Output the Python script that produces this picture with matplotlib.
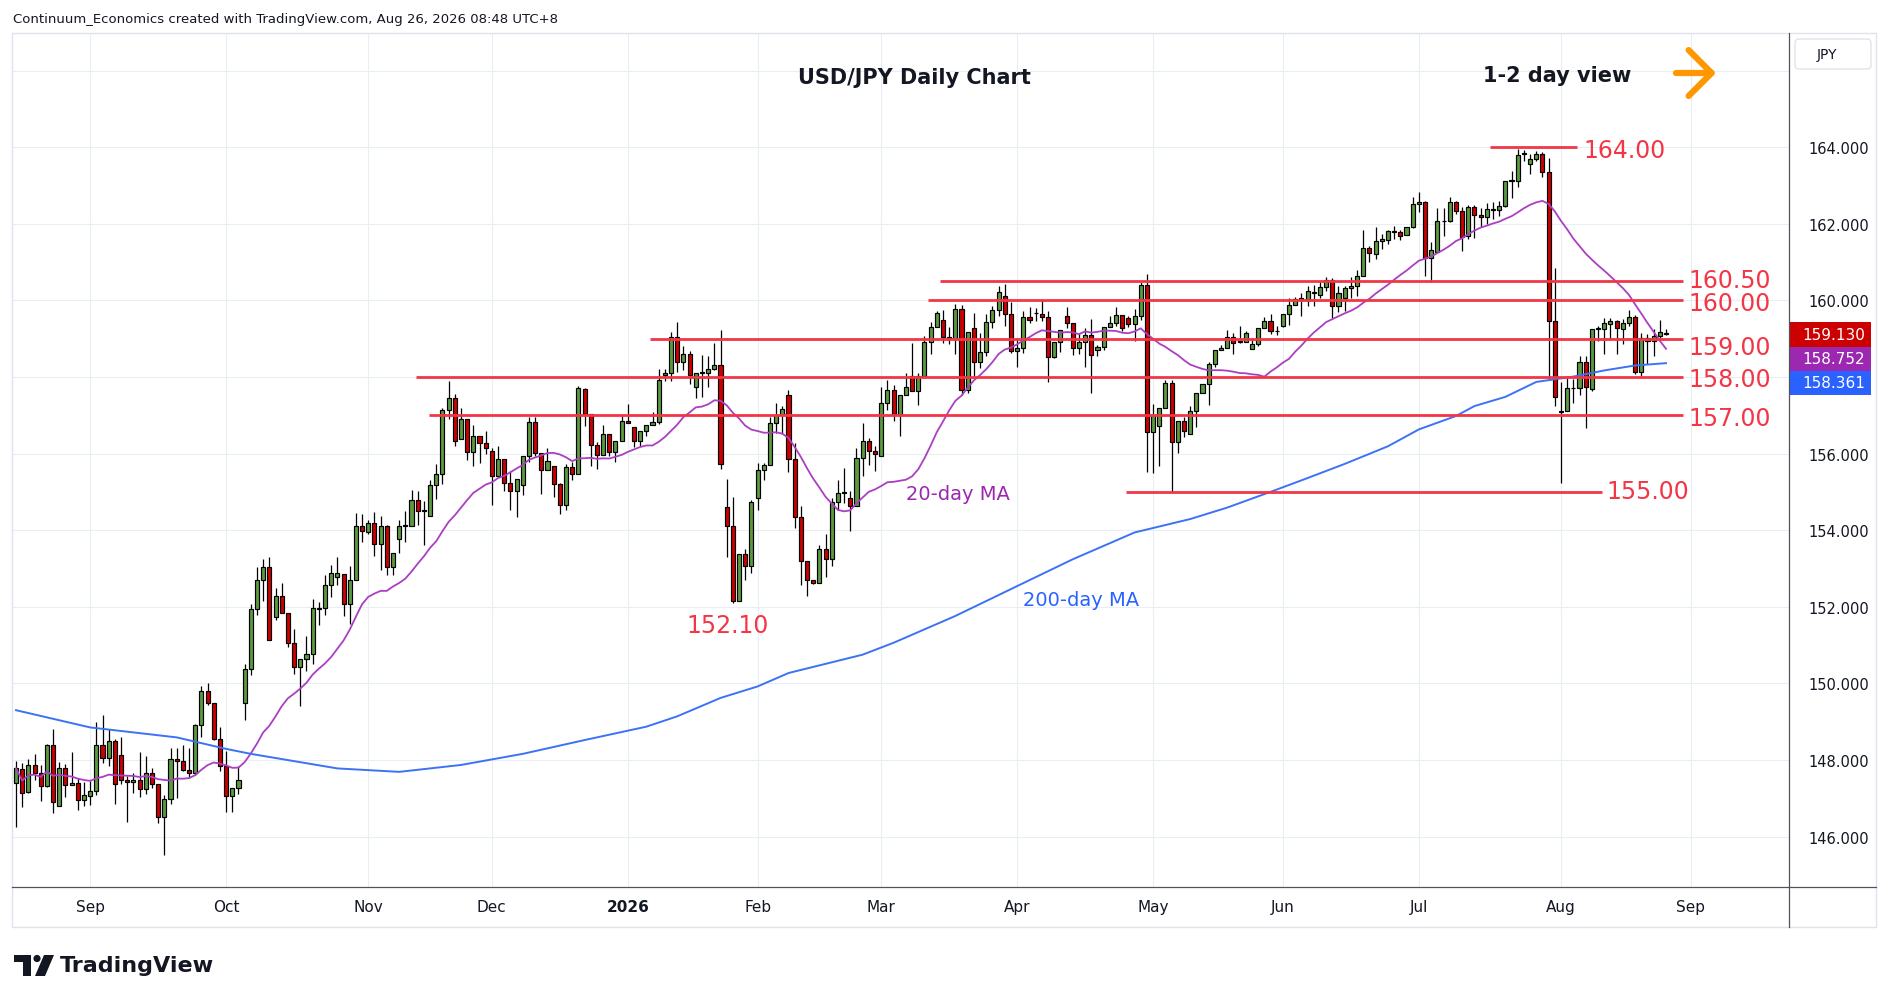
import matplotlib
matplotlib.use('Agg')
import matplotlib.pyplot as plt
import numpy as np
import pandas as pd
from matplotlib.patches import Rectangle, FancyBboxPatch, Polygon, Circle

# ---------------- data ----------------
opens = [
    147.41, 147.77, 147.16, 147.87, 147.67, 147.32, 148.40, 146.81, 147.80, 147.36,
    147.41, 146.96, 147.07, 147.20, 148.40, 148.06, 148.50, 148.14, 147.49, 147.43,
    147.49, 147.23, 147.67, 147.38, 146.50, 146.97, 148.03, 147.98, 147.74, 147.67,
    148.92, 149.81, 149.50, 148.55, 147.83, 147.07, 147.28, 149.48, 150.37, 151.93,
    152.70, 153.04, 151.74, 152.29, 151.84, 151.06, 150.43, 150.64, 150.76, 151.95,
    151.97, 152.57, 152.78, 152.86, 152.08, 152.71, 154.10, 153.94, 154.20, 153.65,
    154.10, 153.05, 153.76, 154.10, 154.11, 154.78, 154.52, 154.36, 155.17, 155.46,
    157.14, 157.45, 156.37, 156.91, 156.03, 156.45, 156.27, 156.06, 155.41, 155.85,
    155.22, 155.03, 155.17, 155.94, 156.82, 156.01, 155.56, 155.67, 155.20, 154.67,
    155.64, 155.46, 157.69, 157.03, 156.22, 155.96, 156.51, 156.03, 156.32, 156.85,
    156.69, 156.32, 156.59, 156.74, 156.82, 158.06, 158.11, 159.04, 158.40, 158.61,
    157.74, 158.11, 158.11, 158.21, 158.32, 154.60, 154.11, 152.14, 153.37, 153.06,
    154.83, 155.57, 155.70, 156.80, 157.01, 157.53, 155.86, 154.34, 153.20, 152.70,
    152.63, 153.50, 153.24, 154.73, 154.97, 154.84, 154.62, 155.88, 156.33, 156.07,
    155.94, 157.32, 157.66, 157.01, 157.53, 158.03, 157.64, 158.03, 158.92, 159.31,
    159.49, 159.05, 159.00, 159.78, 157.67, 159.29, 158.40, 158.65, 159.43, 159.76,
    160.11, 159.64, 158.67, 158.75, 159.56, 159.68, 159.65, 159.56, 158.52, 158.91,
    159.59, 159.41, 158.75, 158.91, 159.09, 158.70, 158.78, 159.30, 159.41, 159.62,
    159.54, 159.38, 159.59, 160.40, 156.55, 156.71, 157.18, 157.83, 156.29, 156.84,
    156.50, 157.10, 157.57, 157.81, 158.33, 158.70, 158.75, 159.04, 158.91, 158.91,
    158.72, 158.86, 159.28, 159.46, 159.20, 159.33, 159.64, 159.88, 160.05, 160.01,
    160.20, 160.15, 160.34, 160.52, 159.86, 160.05, 160.31, 160.37, 160.63, 161.36,
    161.21, 161.56, 161.57, 161.79, 161.79, 161.70, 161.91, 162.52, 162.57, 161.10,
    161.26, 162.07, 162.07, 162.57, 162.33, 161.69, 162.44, 162.22, 162.17, 162.36,
    162.37, 162.47, 163.11, 163.12, 163.83, 163.57, 163.69, 163.83, 163.35, 159.46,
    157.11, 157.11, 157.70, 157.72, 158.40, 157.69, 159.26, 159.24, 159.38, 159.46,
    159.26, 159.41, 159.57, 158.14, 159.02, 158.94, 159.06, 159.16]

highs = [
    147.98, 147.91, 148.03, 148.15, 147.86, 148.43, 148.80, 147.95, 147.90, 148.22,
    147.52, 147.43, 147.44, 148.98, 149.17, 148.80, 148.54, 148.61, 147.57, 147.67,
    148.22, 148.11, 147.80, 147.38, 147.08, 148.30, 148.32, 148.40, 148.30, 148.95,
    149.94, 150.00, 149.50, 148.87, 148.24, 147.28, 147.85, 150.50, 152.06, 153.03,
    153.26, 153.29, 152.48, 152.63, 151.84, 151.43, 150.64, 151.23, 152.19, 152.13,
    152.83, 153.09, 153.29, 152.86, 153.06, 154.45, 154.41, 154.27, 154.48, 154.38,
    154.14, 153.41, 154.26, 154.51, 155.04, 155.01, 154.75, 155.32, 155.73, 157.19,
    157.90, 157.55, 157.20, 156.91, 156.75, 156.45, 156.59, 156.15, 156.19, 155.85,
    155.54, 155.33, 155.94, 156.96, 156.96, 156.01, 156.14, 155.67, 155.23, 155.73,
    155.77, 157.76, 157.71, 157.03, 156.30, 156.75, 156.51, 156.32, 157.01, 157.29,
    156.69, 156.59, 156.74, 157.08, 158.20, 158.21, 159.18, 159.44, 158.81, 158.67,
    158.11, 158.58, 158.54, 158.89, 159.22, 155.34, 154.86, 153.37, 153.51, 154.78,
    155.75, 155.75, 156.95, 157.32, 157.25, 157.65, 156.28, 154.62, 153.20, 152.70,
    153.62, 153.90, 154.83, 155.32, 155.62, 155.02, 156.15, 156.80, 156.41, 156.21,
    157.74, 157.93, 157.80, 157.53, 158.11, 158.89, 158.11, 159.07, 159.43, 159.72,
    159.75, 159.31, 159.90, 159.87, 159.18, 159.66, 159.15, 159.64, 159.84, 160.37,
    160.44, 159.97, 159.01, 159.71, 159.83, 159.80, 160.02, 159.71, 158.91, 159.22,
    159.83, 159.41, 159.14, 159.28, 159.51, 158.84, 159.30, 159.58, 159.83, 159.62,
    159.58, 159.77, 160.49, 160.70, 157.29, 157.18, 157.92, 157.92, 156.84, 156.96,
    157.24, 157.57, 157.81, 158.39, 158.70, 158.83, 159.23, 159.14, 159.32, 159.21,
    159.01, 159.28, 159.56, 159.64, 159.32, 159.64, 160.06, 160.08, 160.19, 160.38,
    160.40, 160.49, 160.60, 160.59, 160.37, 160.38, 160.60, 160.78, 161.83, 161.43,
    161.91, 161.74, 161.83, 161.94, 161.84, 161.91, 162.70, 162.83, 162.59, 161.52,
    162.41, 162.41, 162.70, 162.59, 162.44, 162.50, 162.48, 162.41, 162.55, 162.56,
    162.59, 163.12, 163.38, 163.96, 163.93, 163.83, 163.89, 163.87, 163.71, 160.85,
    157.87, 157.98, 157.95, 158.54, 158.54, 159.26, 159.34, 159.54, 159.54, 159.48,
    159.52, 159.76, 159.62, 159.15, 159.13, 159.26, 159.48, 159.24]

lows = [
    146.26, 146.77, 147.13, 147.48, 146.93, 147.30, 146.62, 146.81, 147.03, 147.35,
    146.70, 146.81, 146.83, 147.09, 147.91, 147.84, 146.85, 147.37, 146.37, 147.13,
    147.03, 147.12, 147.26, 146.35, 145.52, 146.84, 147.00, 147.72, 147.52, 147.61,
    148.61, 149.43, 148.52, 147.70, 146.65, 146.65, 147.12, 149.04, 150.22, 151.78,
    152.15, 151.13, 151.65, 151.84, 150.96, 150.24, 149.41, 150.32, 150.50, 151.52,
    151.78, 152.26, 152.58, 151.76, 151.55, 152.71, 153.68, 153.91, 153.33, 152.96,
    152.83, 152.83, 153.40, 153.68, 154.11, 154.14, 153.61, 154.36, 154.81, 155.21,
    156.91, 156.21, 156.37, 155.82, 155.67, 155.75, 155.99, 154.66, 155.41, 155.03,
    154.53, 154.35, 154.93, 155.78, 155.93, 154.95, 155.56, 154.86, 154.41, 154.52,
    155.31, 155.46, 156.73, 155.67, 155.59, 155.96, 155.93, 155.77, 156.32, 156.79,
    156.17, 156.19, 156.46, 156.74, 156.78, 157.89, 157.89, 158.13, 158.18, 157.82,
    157.44, 157.47, 157.74, 158.18, 155.60, 153.31, 152.09, 152.14, 152.70, 152.87,
    154.53, 155.30, 155.70, 156.54, 156.50, 155.51, 154.05, 152.57, 152.28, 152.60,
    152.63, 152.79, 153.07, 154.53, 154.71, 153.99, 154.62, 155.41, 155.71, 155.54,
    155.94, 157.15, 156.84, 156.45, 157.53, 157.64, 157.27, 158.03, 158.59, 159.31,
    158.89, 158.85, 158.59, 157.52, 157.58, 158.02, 158.24, 158.56, 159.28, 159.58,
    159.32, 158.62, 158.27, 158.62, 159.42, 159.45, 159.45, 157.88, 158.49, 158.65,
    159.28, 158.58, 158.60, 158.25, 157.57, 158.55, 158.71, 159.30, 159.32, 159.19,
    159.30, 158.95, 159.49, 155.52, 155.48, 155.68, 157.18, 155.00, 156.02, 156.44,
    156.50, 156.70, 157.57, 157.28, 158.27, 158.70, 158.75, 158.59, 158.88, 158.91,
    158.72, 158.80, 159.28, 159.12, 159.10, 159.30, 159.36, 159.88, 159.60, 159.84,
    159.84, 160.06, 160.25, 159.55, 159.69, 159.73, 160.05, 160.12, 160.63, 161.00,
    161.08, 161.34, 161.48, 161.61, 161.58, 161.70, 161.89, 162.31, 160.63, 160.49,
    161.26, 161.69, 162.04, 162.26, 161.30, 161.61, 161.62, 161.91, 162.00, 162.12,
    162.19, 162.45, 162.67, 162.97, 163.63, 163.30, 163.63, 163.21, 157.95, 157.24,
    155.24, 157.11, 157.33, 157.54, 156.68, 157.63, 158.93, 158.59, 158.98, 158.59,
    158.85, 159.33, 158.07, 158.02, 158.33, 158.54, 159.02, 159.10]

closes = [
    147.78, 147.15, 147.87, 147.67, 147.33, 148.40, 146.91, 147.80, 147.36, 147.41,
    146.96, 147.08, 147.20, 148.40, 148.06, 148.50, 147.37, 147.48, 147.43, 147.49,
    147.23, 147.67, 147.38, 146.50, 146.97, 148.03, 147.98, 147.74, 147.67, 148.92,
    149.81, 149.50, 148.55, 147.83, 147.07, 147.28, 147.49, 150.37, 151.93, 152.70,
    153.04, 151.13, 152.29, 151.84, 151.06, 150.43, 150.64, 150.76, 151.96, 151.97,
    152.57, 152.89, 152.89, 152.08, 152.71, 154.10, 153.99, 154.20, 153.65, 154.10,
    153.05, 153.41, 154.11, 154.13, 154.78, 154.51, 154.50, 155.17, 155.46, 157.14,
    157.45, 156.32, 156.91, 156.03, 156.45, 156.27, 156.14, 155.41, 155.85, 155.22,
    155.03, 155.33, 155.94, 156.82, 156.01, 155.56, 155.80, 155.20, 154.67, 155.64,
    155.46, 157.71, 157.03, 156.22, 155.96, 156.51, 156.03, 156.32, 156.85, 156.79,
    156.32, 156.59, 156.74, 156.82, 157.91, 158.11, 159.04, 158.40, 158.61, 158.06,
    158.11, 158.12, 158.21, 158.32, 155.74, 154.11, 152.14, 153.37, 153.06, 154.74,
    155.57, 155.70, 156.80, 157.01, 157.17, 155.86, 154.34, 153.20, 152.70, 152.62,
    153.50, 153.24, 154.73, 154.97, 155.00, 154.62, 155.88, 156.33, 156.07, 155.99,
    157.32, 157.66, 157.04, 157.53, 157.74, 157.64, 158.03, 158.92, 159.31, 159.68,
    159.05, 158.98, 159.78, 157.67, 159.18, 158.40, 158.66, 159.43, 159.76, 160.22,
    159.64, 158.67, 158.75, 159.56, 159.48, 159.66, 159.56, 158.52, 158.91, 159.22,
    159.41, 158.75, 158.91, 159.09, 158.57, 158.78, 159.30, 159.41, 159.62, 159.28,
    159.38, 159.59, 160.40, 156.55, 157.00, 157.18, 157.83, 156.29, 156.84, 156.60,
    157.10, 157.57, 157.81, 158.33, 158.70, 158.75, 159.04, 158.88, 158.93, 159.14,
    158.86, 159.28, 159.46, 159.20, 159.19, 159.64, 159.88, 160.03, 160.01, 160.25,
    160.22, 160.34, 160.52, 159.86, 160.18, 160.31, 160.37, 160.63, 161.36, 161.23,
    161.55, 161.59, 161.80, 161.80, 161.68, 161.91, 162.52, 162.57, 161.10, 161.32,
    162.07, 162.08, 162.57, 162.33, 161.65, 162.44, 162.24, 162.17, 162.38, 162.38,
    162.47, 163.12, 163.13, 163.80, 163.84, 163.69, 163.83, 163.35, 159.46, 157.48,
    157.09, 157.70, 157.72, 158.40, 157.74, 159.26, 159.27, 159.40, 159.46, 159.28,
    159.41, 159.57, 158.14, 159.02, 158.94, 159.06, 159.17, 159.13]

# 200-day moving average at these bar numbers
ma200_bar = [0, 12, 26, 34, 38, 52, 62, 72, 82, 92, 102, 107, 114, 120, 125, 132,
             137, 142, 152, 162, 171, 181, 190, 196, 203, 208, 215, 222, 227, 233,
             236, 241, 246, 252, 257, 262, 267]
ma200_val = [149.30, 148.85, 148.59, 148.29, 148.16, 147.78, 147.69, 147.87, 148.16,
             148.52, 148.87, 149.14, 149.62, 149.92, 150.27, 150.55, 150.75, 151.06,
             151.76, 152.54, 153.24, 153.94, 154.29, 154.59, 155.00, 155.30, 155.73,
             156.19, 156.63, 156.98, 157.24, 157.48, 157.87, 158.01, 158.17, 158.30,
             158.36]

levels = [164.00, 160.50, 160.00, 159.00, 158.00, 157.00, 155.00]
level_labels = ['164.00', '160.50', '160.00', '159.00', '158.00', '157.00', '155.00']
yticks = [146, 148, 150, 152, 154, 156, 158, 160, 162, 164, 166]
hidden_yticks = [158, 166]   # covered by the price tags / currency box

last_price, ma20_last, ma200_last = '159.130', '158.752', '158.361'

# ---------------- layout ----------------
W, H = 1889, 1003
fig = plt.figure(figsize=(W / 100, H / 100), dpi=100)
fig.patch.set_facecolor('white')

XMIN, XMAX = -0.65, 286.9
YMIN, YMAX = 144.684, 166.98

dates = pd.bdate_range('2025-08-14', '2026-08-26')
dates = dates[~dates.isin(pd.to_datetime(['2025-12-25', '2026-01-01']))]
n = len(dates)
idx = np.arange(n)
o = np.array(opens)
h = np.array(highs)
l = np.array(lows)
c = np.array(closes)

ax = fig.add_axes([12 / W, 1 - 888 / H, (1789 - 12) / W, (888 - 34) / H])
for s in ax.spines.values():
    s.set_visible(False)

# month ticks
fut = pd.bdate_range(dates[-1] + pd.Timedelta(days=1), periods=30)
alld = list(dates) + list(fut)
mpos, mlab = [], []
for i, d in enumerate(alld):
    if i == 0 or i > XMAX:
        continue
    if d.month != alld[i - 1].month:
        mpos.append(i)
        mlab.append(str(d.year) if d.month == 1 else d.strftime('%b'))
ax.set_xticks(mpos)
ax.set_xticklabels(mlab)
ax.tick_params(axis='x', length=0, pad=9, labelsize=11, labelcolor='#131722')
for t in ax.get_xticklabels():
    if t.get_text().isdigit():
        t.set_fontweight('bold')

ax.yaxis.tick_right()
ax.set_yticks(yticks)
ax.set_yticklabels(['' if v in hidden_yticks else f'{v:.3f}' for v in yticks])
ax.tick_params(axis='y', length=0, pad=14, labelsize=10.5, labelcolor='#131722')
ax.grid(True, color='#e9eef4', lw=0.8, zorder=0)
ax.set_axisbelow(True)

# candles
up = c >= o
cols = np.where(up, '#5b9a3e', '#cc0000')
ax.vlines(idx, l, h, color='black', lw=0.9, zorder=3)
body = np.maximum(np.abs(c - o), 0.012)
ax.bar(idx, body, bottom=np.minimum(o, c), width=0.66, color=cols,
       edgecolor='black', linewidth=0.85, zorder=4)

# moving averages
ma20 = pd.Series(c).rolling(20, min_periods=1).mean()
ax.plot(idx, ma20, color='#ab3fc2', lw=1.3, zorder=5)
ax.plot(ma200_bar, ma200_val, color='#3d72f6', lw=1.4, zorder=5)

# horizontal levels
red = '#f23645'
lvl_x0 = [238.5, 149.5, 147.6, 102.6, 64.7, 66.8, 179.6]
lvl_x1 = [252.6, 269.7, 269.7, 269.7, 269.7, 269.7, 256.6]
lbl_x = [253.6, 270.55, 270.55, 270.55, 270.55, 270.55, 257.4]
lbl_dy = [0.0, 0.1, 0.0, -0.15, 0.0, 0.0, 0.1]
for lv, lab, x0, x1, lx, dy in zip(levels, level_labels, lvl_x0, lvl_x1, lbl_x, lbl_dy):
    ax.plot([x0, x1], [lv, lv], color=red, lw=2.0, zorder=6, solid_capstyle='butt')
    ax.text(lx, lv + dy, lab, color=red, fontsize=17, ha='left', va='center_baseline', zorder=7)

ax.text(115.1, 151.6, '152.10', color=red, fontsize=17, ha='center', va='center_baseline')
ax.text(152.4, 155.0, '20-day MA', color='#9c27b0', fontsize=14, ha='center', va='center_baseline')
ax.text(172.3, 152.24, '200-day MA', color='#2962ff', fontsize=14, ha='center', va='center_baseline')

ax.set_xlim(XMIN, XMAX)
ax.set_ylim(YMIN, YMAX)

# ---------------- overlay (pixel coords) ----------------
ov = fig.add_axes([0, 0, 1, 1])
ov.set_xlim(0, W)
ov.set_ylim(H, 0)
ov.axis('off')

# frame
ov.add_patch(Rectangle((12, 34), 1876 - 12, 928 - 34, fill=False, ec='#e0e3eb', lw=1))
ov.plot([12, 1876], [888, 888], color='#50535e', lw=0.9)
ov.plot([1789, 1789], [34, 928], color='#50535e', lw=0.9)

# JPY box
ov.add_patch(FancyBboxPatch((1795, 40), 76, 30, boxstyle='round,pad=0,rounding_size=4',
                            fc='white', ec='#e0e3eb', lw=1))
ov.text(1817, 55, 'JPY', fontsize=10, color='#131722', ha='left', va='center')

# price tags
for (y0, col, txt) in [(323.3, '#cc0000', last_price), (347.5, '#9c27b0', ma20_last),
                       (371.7, '#2962ff', ma200_last)]:
    ov.add_patch(Rectangle((1790, y0), 81, 24.2, fc=col, ec='none'))
    ov.text(1802, y0 + 12.3, txt, color='white', fontsize=11, ha='left', va='center')

# titles
ov.text(13, 19, 'Continuum_Economics created with TradingView.com, Aug 26, 2026 08:48 UTC+8',
        fontsize=9.5, color='#131722', ha='left', va='center')
ov.text(914, 78, 'USD/JPY Daily Chart', fontsize=15, fontweight='bold', color='#131722',
        ha='center', va='center')
ov.text(1557, 76, '1-2 day view', fontsize=15, fontweight='bold', color='#131722',
        ha='center', va='center')
ov.annotate('', xy=(1716, 74), xytext=(1676, 74), xycoords='data', textcoords='data',
            arrowprops=dict(arrowstyle='->,head_length=0.55,head_width=0.55', lw=4.5,
                            color='#ff9800', mutation_scale=30, capstyle='round',
                            joinstyle='round', shrinkA=0, shrinkB=0))

# TradingView logo
ov.add_patch(Polygon([(14, 956), (31, 956), (31, 977), (23, 977), (23, 963), (14, 963)],
                     closed=True, fc='#131722', ec='none'))
ov.add_patch(Circle((37, 959.5), 3.6, fc='#131722', ec='none'))
ov.add_patch(Polygon([(44, 956), (54, 956), (45, 977), (35, 977)], closed=True,
                     fc='#131722', ec='none'))
ov.text(60, 966, 'TradingView', fontsize=16, fontweight='bold', color='#131722',
        ha='left', va='center')

fig.savefig('out.png', dpi=100, facecolor='white')
